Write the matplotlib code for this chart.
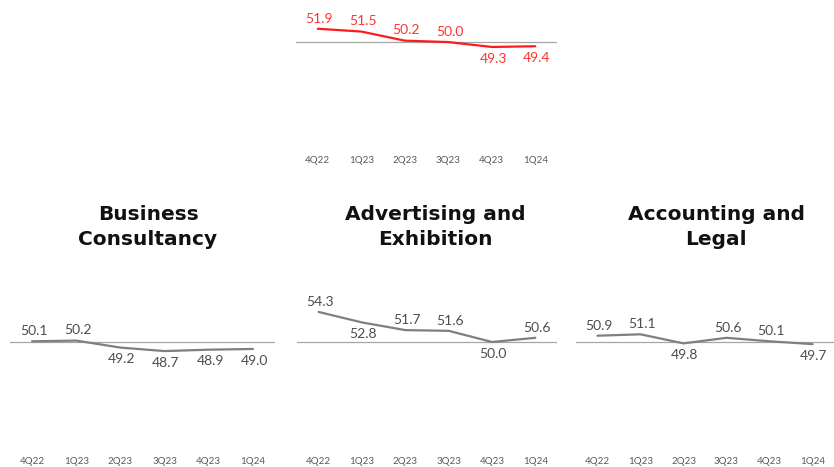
import numpy as np
import matplotlib
matplotlib.use("Agg")
import matplotlib.pyplot as plt

quarters = ["4Q22", "1Q23", "2Q23", "3Q23", "4Q23", "1Q24"]

overall = [51.9, 51.5, 50.2, 50.0, 49.3, 49.4]
business = [50.1, 50.2, 49.2, 48.7, 48.9, 49.0]
advertising = [54.3, 52.8, 51.7, 51.6, 50.0, 50.6]
accounting = [50.9, 51.1, 49.8, 50.6, 50.1, 49.7]

# label above (True) or below (False) the point
overall_up = [True, True, True, True, False, False]
business_up = [True, True, False, False, False, False]
advertising_up = [True, False, True, True, False, True]
accounting_up = [True, True, False, True, True, False]

titles = ["Business\nConsultancy", "Advertising and\nExhibition", "Accounting and\nLegal"]

W, H = 834, 467
fig = plt.figure(figsize=(W / 100, H / 100), dpi=100)

GREY_TXT = "#4d4d4d"


def px_axes(x0, x1, y_top, y_bot):
    return fig.add_axes([x0 / W, 1 - y_bot / H, (x1 - x0) / W, (y_bot - y_top) / H])


def draw_panel(ax, values, ups, color, txt_color, ylim):
    x = np.arange(len(quarters))
    ax.axhline(50, color="#a6a6a6", lw=0.9, zorder=1)
    ax.plot(x, values, color=color, lw=1.6, zorder=2, solid_capstyle="round")
    for xi, v, up in zip(x, values, ups):
        ax.annotate(f"{v:.1f}", (xi, v), xytext=(1, 3 if up else -4),
                    textcoords="offset points", ha="center",
                    va="bottom" if up else "top", fontsize=10,
                    color=txt_color, family="Lato")
    ax.set_xlim(-0.5, len(quarters) - 0.5)
    ax.set_ylim(*ylim)
    ax.set_xticks(x)
    ax.set_xticklabels(quarters, fontsize=7, color="#595959", family="Lato")
    ax.tick_params(axis="x", length=0, pad=4)
    ax.set_yticks([])
    for s in ax.spines.values():
        s.set_visible(False)
    ax.patch.set_alpha(0)


ax_top = px_axes(296, 557, 0, 150)
draw_panel(ax_top, overall, overall_up, "#ff1a1a", "#ff3333", (34.6, 56.0))

panels = [
    (10, 275, business, business_up),
    (297, 557, advertising, advertising_up),
    (576, 834, accounting, accounting_up),
]
title_x = [148, 435, 716]
for (x0, x1, vals, ups), t, tx in zip(panels, titles, title_x):
    ax = px_axes(x0, x1, 284, 451)
    draw_panel(ax, vals, ups, "#7f7f7f", GREY_TXT, (34.4, 58.3))
    fig.text(tx / W, 1 - 227 / H, t, ha="center", va="center", fontsize=14.5,
             fontweight="bold", color="#111111", linespacing=1.45,
             family="DejaVu Sans")

fig.savefig("out.png", dpi=100)
plt.close(fig)
